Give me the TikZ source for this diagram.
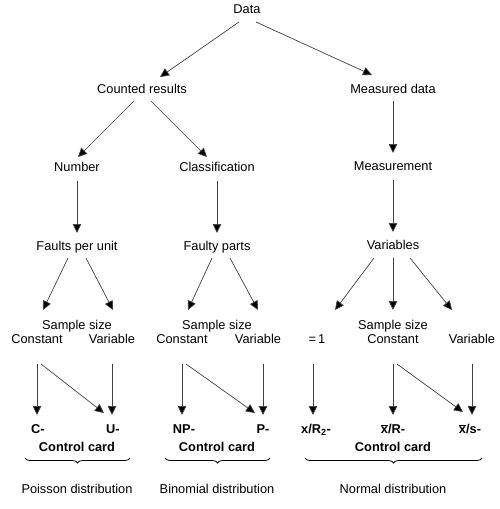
\documentclass[tikz,border=0pt]{standalone}
\usepackage{fontspec}
\setmainfont{Liberation Sans}
\usetikzlibrary{arrows.meta,decorations.pathreplacing}
\begin{document}
\begin{tikzpicture}[x=1pt,y=-1pt,
  lbl/.style={anchor=base,inner sep=0pt,font=\fontsize{12.8}{14}\selectfont},
  blbl/.style={anchor=base,inner sep=0pt,font=\fontsize{12.8}{14}\selectfont\bfseries},
  arr/.style={draw=black!75,line width=0.7pt,-{Triangle[length=9pt,width=8.5pt,fill=black]}},
  brc/.style={draw=black,line width=0.8pt,decorate,decoration={brace,amplitude=5pt}}]
\useasboundingbox (0,0) rectangle (500,509);
% nodes
\node[lbl] (data) at (247,13) {Data};
\node[lbl] (counted) at (142,93) {Counted results};
\node[lbl] (measured) at (393,93) {Measured data};
\node[lbl] (number) at (77,171) {Number};
\node[lbl] (class) at (217,171) {Classification};
\node[lbl] (measurement) at (393,170) {Measurement};
\node[lbl] (faults) at (77,250) {Faults per unit};
\node[lbl] (faulty) at (217,250) {Faulty parts};
\node[lbl] (variables) at (393,249) {Variables};
% sample size rows
\node[lbl] (ssA) at (77,329) {Sample size};
\node[lbl] (conA) at (37,343) {Constant};
\node[lbl] (varA) at (112,343) {Variable};
\node[lbl] (ssB) at (217,329) {Sample size};
\node[lbl] (conB) at (182,343) {Constant};
\node[lbl] (varB) at (258,343) {Variable};
\node[lbl] (one) at (317,343) {=\,1};
\node[lbl] (ssC) at (393,329) {Sample size};
\node[lbl] (conC) at (393,343) {Constant};
\node[lbl] (varC) at (472,343) {Variable};
% chart labels
\node[blbl] (C) at (38,433) {C-};
\node[blbl] (U) at (113,433) {U-};
\node[blbl] (NP) at (184,433) {NP-};
\node[blbl] (P) at (263,433) {P-};
\node[blbl] (xR2) at (316,433) {x/R\textsubscript{2}-};
\node[blbl] (xR) at (393,433) {$\overline{\mbox{x}}$/R-};
\node[blbl] (xs) at (470,433) {$\overline{\mbox{x}}$/s-};
\node[blbl] (ccA) at (77,451) {Control card};
\node[blbl] (ccB) at (217,451) {Control card};
\node[blbl] (ccC) at (393,451) {Control card};
\node[lbl] (poisson) at (77,493) {Poisson distribution};
\node[lbl] (binomial) at (217,493) {Binomial distribution};
\node[lbl] (normal) at (393,493) {Normal distribution};
% upper connectors
\draw[arr] ([shift={(-8,9)}]data.base) -- ([shift={(18,-16)}]counted.base);
\draw[arr] ([shift={(9,9)}]data.base) -- ([shift={(-21,-18)}]measured.base);
\draw[arr] ([shift={(-8,8)}]counted.base) -- ([shift={(1,-14)}]number.base);
\draw[arr] ([shift={(9,8)}]counted.base) -- ([shift={(-10,-14)}]class.base);
\draw[arr] ([shift={(0,8)}]measured.base) -- ([shift={(0,-17)}]measurement.base);
\draw[arr] ([shift={(0,10)}]number.base) -- ([shift={(0,-17)}]faults.base);
\draw[arr] ([shift={(0,10)}]class.base) -- ([shift={(0,-17)}]faulty.base);
\draw[arr] ([shift={(0,10)}]measurement.base) -- ([shift={(0,-17)}]variables.base);
\draw[arr] ([shift={(-9,8)}]faults.base) -- ([shift={(6,-33)}]conA.base);
\draw[arr] ([shift={(9,8)}]faults.base) -- ([shift={(1,-33)}]varA.base);
\draw[arr] ([shift={(-5,8)}]faulty.base) -- ([shift={(6,-33)}]conB.base);
\draw[arr] ([shift={(13,8)}]faulty.base) -- ([shift={(0,-33)}]varB.base);
\draw[arr] ([shift={(-19,9)}]variables.base) -- ([shift={(18,-33)}]one.base);
\draw[arr] ([shift={(0,9)}]variables.base) -- ([shift={(0,-19)}]ssC.base);
\draw[arr] ([shift={(17,9)}]variables.base) -- ([shift={(-20,-33)}]varC.base);
% lower connectors
\draw[arr] ([shift={(0,21)}]conA.base) -- ([shift={(-1,-18)}]C.base);
\draw[arr] ([shift={(4,21)}]conA.base) -- ([shift={(-9,-20)}]U.base);
\draw[arr] ([shift={(0,21)}]varA.base) -- ([shift={(-1,-18)}]U.base);
\draw[arr] ([shift={(0,21)}]conB.base) -- ([shift={(-2,-18)}]NP.base);
\draw[arr] ([shift={(4,21)}]conB.base) -- ([shift={(-8,-20)}]P.base);
\draw[arr] ([shift={(5,21)}]varB.base) -- ([shift={(0,-18)}]P.base);
\draw[arr] ([shift={(-4,21)}]one.base) -- ([shift={(-3,-18)}]xR2.base);
\draw[arr] ([shift={(0,21)}]conC.base) -- ([shift={(0,-18)}]xR.base);
\draw[arr] ([shift={(4,21)}]conC.base) -- ([shift={(-7,-21)}]xs.base);
\draw[arr] ([shift={(0,21)}]varC.base) -- ([shift={(2,-18)}]xs.base);
% braces
\draw[brc] (130,458) -- (25,458);
\draw[brc] (270,458) -- (165,458);
\draw[brc] (482,458) -- (305,458);
\end{tikzpicture}
\end{document}
